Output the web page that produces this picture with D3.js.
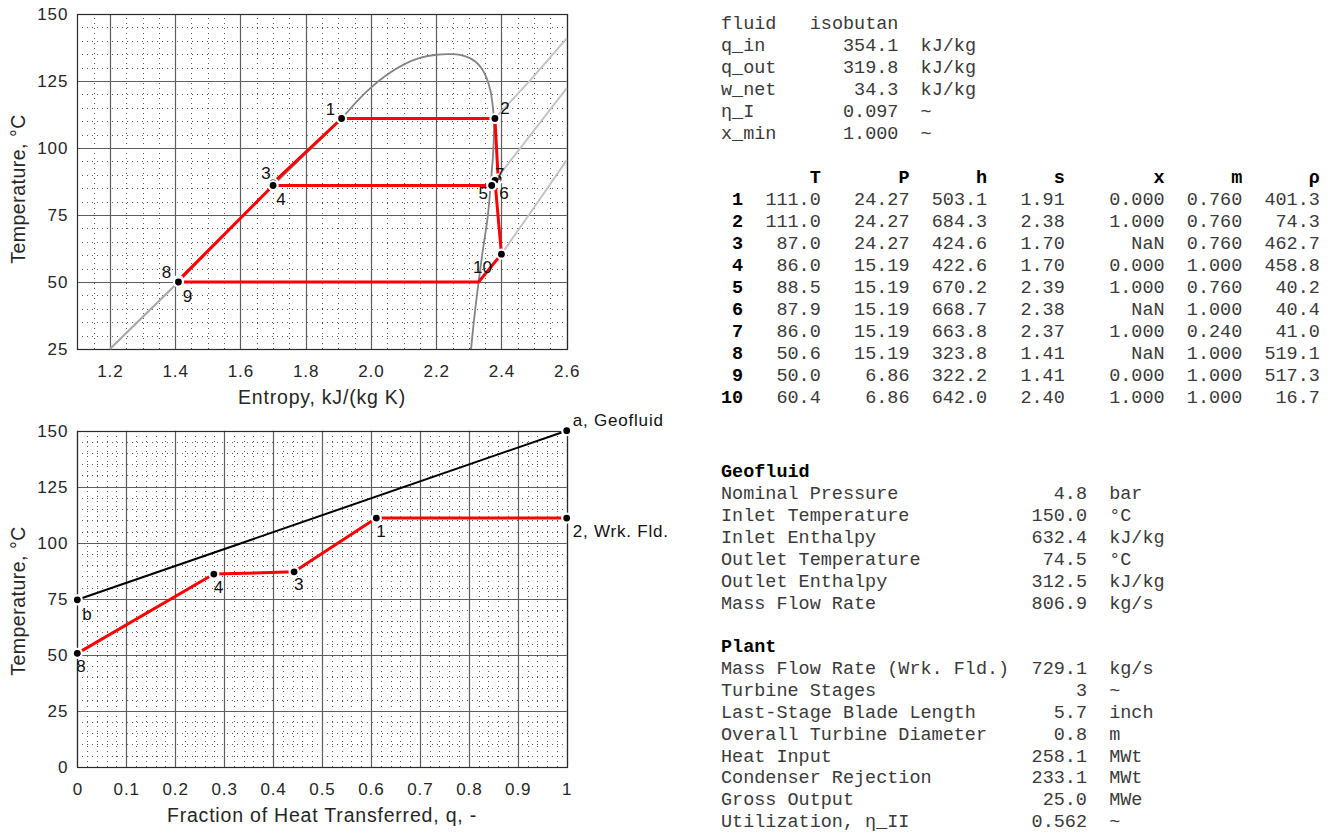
<!DOCTYPE html>
<html>
<head>
<meta charset="utf-8">
<script src="https://cdn.jsdelivr.net/npm/d3@7"></script>
<style>
  body { margin: 0; background: #fff; }
  svg { display: block; }
</style>
</head>
<body>
<svg id="fig" width="1333" height="833"></svg>
<script>
// ---------------- state table (working fluid) ----------------
const stateIds  = [1, 2, 3, 4, 5, 6, 7, 8, 9, 10];
const stateT    = [111.0, 111.0, 87.0, 86.0, 88.5, 87.9, 86.0, 50.6, 50.0, 60.4];
const stateP    = [24.27, 24.27, 24.27, 15.19, 15.19, 15.19, 15.19, 15.19, 6.86, 6.86];
const stateH    = [503.1, 684.3, 424.6, 422.6, 670.2, 668.7, 663.8, 323.8, 322.2, 642.0];
const stateS    = [1.91, 2.38, 1.70, 1.70, 2.39, 2.38, 2.37, 1.41, 1.41, 2.40];
const stateX    = [0.000, 1.000, NaN, 0.000, 1.000, NaN, 1.000, NaN, 0.000, 1.000];
const stateM    = [0.760, 0.760, 0.760, 1.000, 0.760, 1.000, 0.240, 1.000, 1.000, 1.000];
const stateRho  = [401.3, 74.3, 462.7, 458.8, 40.2, 40.4, 41.0, 519.1, 517.3, 16.7];
const tableHeaders = ["T", "P", "h", "s", "x", "m", "ρ"];

// cycle legs drawn between states (by id)
const cycleLegs = [[8, 4], [4, 3], [3, 1], [1, 2], [2, 5], [5, 6], [7, 6], [6, 10], [4, 7]];
// condenser leg: state 10 -> saturated vapour at 50 °C -> state 9
const condenserS = [2.40, 2.33, 1.41];
const condenserT = [60.4, 50.0, 50.0];

// saturation dome of isobutane (s in kJ/(kg K), T in °C)
const domeS = [1.20, 1.41, 1.70, 1.91, 1.95, 2.00, 2.05, 2.10, 2.15, 2.20, 2.25, 2.29, 2.32, 2.34, 2.355, 2.366, 2.372, 2.376, 2.377, 2.374, 2.368, 2.358, 2.343, 2.330, 2.317, 2.307];
const domeT = [25.0, 50.0, 86.0, 111.0, 116.5, 122.5, 127.4, 131.1, 133.6, 134.8, 135.0, 134.2, 132.3, 129.6, 126.0, 121.5, 117.0, 112.5, 106.0, 97.0, 88.0, 74.4, 61.9, 50.0, 37.0, 25.0];

// superheated isobars (24.27, 15.19, 6.86 bar)
const isobarHighS = [2.38, 2.49, 2.60];
const isobarHighT = [111.0, 125.5, 140.9];
const isobarMidS  = [2.384, 2.49, 2.60];
const isobarMidT  = [88.4, 105.0, 122.3];
const isobarLowS  = [2.40, 2.50, 2.60];
const isobarLowT  = [60.4, 77.8, 95.5];

// ---------------- heat-transfer diagram ----------------
const wfFrac   = [0, 0.279, 0.443, 0.611, 1.0];
const wfTemp   = [50.6, 86.0, 87.0, 111.0, 111.0];
const wfLabels = ["8", "4", "3", "1", "2, Wrk. Fld."];
const geoFrac   = [0, 1];
const geoTemp   = [74.5, 150.0];
const geoLabels = ["b", "a, Geofluid"];

// ---------------- axis ticks ----------------
const tsXTicks = [1.2, 1.4, 1.6, 1.8, 2.0, 2.2, 2.4, 2.6];
const tsYTicks = [25, 50, 75, 100, 125, 150];
const qXTicks  = [0, 0.1, 0.2, 0.3, 0.4, 0.5, 0.6, 0.7, 0.8, 0.9, 1];
const qYTicks  = [0, 25, 50, 75, 100, 125, 150];

// ---------------- summary text ----------------
const summaryNames  = ["fluid", "q_in", "q_out", "w_net", "η_I", "x_min"];
const summaryValues = ["isobutan", "354.1", "319.8", "34.3", "0.097", "1.000"];
const summaryUnits  = ["", "kJ/kg", "kJ/kg", "kJ/kg", "~", "~"];

const geoNames  = ["Nominal Pressure", "Inlet Temperature", "Inlet Enthalpy", "Outlet Temperature", "Outlet Enthalpy", "Mass Flow Rate"];
const geoValues = ["4.8", "150.0", "632.4", "74.5", "312.5", "806.9"];
const geoUnits  = ["bar", "°C", "kJ/kg", "°C", "kJ/kg", "kg/s"];

const plantNames  = ["Mass Flow Rate (Wrk. Fld.)", "Turbine Stages", "Last-Stage Blade Length", "Overall Turbine Diameter", "Heat Input", "Condenser Rejection", "Gross Output", "Utilization, η_II"];
const plantValues = ["729.1", "3", "5.7", "0.8", "258.1", "233.1", "25.0", "0.562"];
const plantUnits  = ["kg/s", "~", "inch", "m", "MWt", "MWt", "MWe", "~"];

// ============================================================
const svg = d3.select("#fig");
svg.append("rect").attr("width", 1333).attr("height", 833).attr("fill", "#fff");

const SANS = "'Liberation Sans', Arial, Helvetica, sans-serif";
const MONO = "'Liberation Mono', 'Courier New', monospace";
const px = v => Math.round(v) + 0.5;   // snap hairlines to pixel centres

function drawPanel(cfg) {
  const { x, y, xTicks, yTicks, xMinor, yMinor, xFmt, xTitle, yTitle, titleY, yTitleY } = cfg;
  const [x0, x1] = x.range();
  const [y0, y1] = y.range(); // y0 bottom, y1 top
  const g = svg.append("g");

  // minor dotted grid
  const minor = g.append("g").attr("shape-rendering", "crispEdges");
  minor.selectAll("line.vx").data(xMinor).join("line").attr("class", "vx")
    .attr("x1", d => px(x(d))).attr("x2", d => px(x(d))).attr("y1", y0).attr("y2", y1)
    .attr("stroke", "#5a5a5a").attr("stroke-width", 1).attr("stroke-dasharray", "1,4");
  minor.selectAll("line.hy").data(yMinor).join("line").attr("class", "hy")
    .attr("y1", d => px(y(d))).attr("y2", d => px(y(d))).attr("x1", x0).attr("x2", x1)
    .attr("stroke", "#5a5a5a").attr("stroke-width", 1).attr("stroke-dasharray", "1,4");

  // major grid through the library's axes
  const gridX = g.append("g").attr("transform", `translate(0,${y0})`)
    .call(d3.axisBottom(x).tickValues(xTicks).tickSize(-(y0 - y1)).tickFormat(""));
  gridX.select(".domain").remove();
  gridX.selectAll(".tick").attr("transform", d => `translate(${px(x(d))},0)`);
  gridX.selectAll("line").attr("stroke", "#5e5e5e").attr("stroke-width", 1.2);
  const gridY = g.append("g").attr("transform", `translate(${x0},0)`)
    .call(d3.axisLeft(y).tickValues(yTicks).tickSize(-(x1 - x0)).tickFormat(""));
  gridY.select(".domain").remove();
  gridY.selectAll(".tick").attr("transform", d => `translate(0,${px(y(d))})`);
  gridY.selectAll("line").attr("stroke", "#5e5e5e").attr("stroke-width", 1.2);

  // box
  g.append("rect").attr("x", px(x0)).attr("y", px(y1)).attr("width", Math.round(x1) - Math.round(x0)).attr("height", Math.round(y0) - Math.round(y1))
    .attr("fill", "none").attr("stroke", "#2a2a2a").attr("stroke-width", 1.2);

  // tick labels
  const ax = g.append("g").attr("transform", `translate(0,${y0})`)
    .call(d3.axisBottom(x).tickValues(xTicks).tickSize(0).tickPadding(16).tickFormat(xFmt));
  ax.select(".domain").remove();
  const ay = g.append("g").attr("transform", `translate(${x0},0)`)
    .call(d3.axisLeft(y).tickValues(yTicks).tickSize(0).tickPadding(9).tickFormat(d3.format("d")));
  ay.select(".domain").remove();
  [ax, ay].forEach(a => a.attr("font-family", SANS).attr("font-size", 17)
    .selectAll("text").attr("fill", "#262626").attr("letter-spacing", 0.9));

  // axis titles
  g.append("text").attr("x", (x0 + x1) / 2).attr("y", titleY).attr("text-anchor", "middle")
    .attr("font-family", SANS).attr("font-size", 19.5).attr("letter-spacing", 0.8)
    .attr("fill", "#262626").text(xTitle);
  g.append("text").attr("transform", `translate(25,${yTitleY}) rotate(-90)`).attr("text-anchor", "middle")
    .attr("font-family", SANS).attr("font-size", 19.5).attr("letter-spacing", 0.5)
    .attr("fill", "#262626").text(yTitle);
  return g;
}

function marker(g, cx, cy) {
  g.append("circle").attr("cx", cx).attr("cy", cy).attr("r", 5.6).attr("fill", "#fff");
  g.append("circle").attr("cx", cx).attr("cy", cy).attr("r", 3.4).attr("fill", "#000");
}

// ---------------- T-s diagram ----------------
const xS = d3.scaleLinear().domain([1.1, 2.6]).range([77.3, 566.7]);
const yTs = d3.scaleLinear().domain([25, 150]).range([349, 14]);
const rnd = v => Math.round(v * 1000) / 1000;

const ts = drawPanel({
  x: xS, y: yTs, xTicks: tsXTicks, yTicks: tsYTicks,
  xMinor: d3.range(0, 31).map(i => rnd(1.1 + i * 0.05)),
  yMinor: d3.range(0, 26).map(i => 25 + i * 5),
  xFmt: d3.format(".1f"),
  xTitle: "Entropy, kJ/(kg K)", yTitle: "Temperature, °C",
  titleY: 404, yTitleY: 189
});

const tsLine = d3.line().x(d => xS(d[0])).y(d => yTs(d[1]));
const pts = (S, T) => S.map((s, i) => [s, T[i]]);

[[isobarHighS, isobarHighT], [isobarMidS, isobarMidT], [isobarLowS, isobarLowT]].forEach(([S, T]) => {
  ts.append("path").datum(pts(S, T)).attr("d", tsLine)
    .attr("fill", "none").attr("stroke", "#c4c4c4").attr("stroke-width", 2);
});

// liquid branch below state 8 is the low-pressure isobar (light), the dome above it is darker
ts.append("path").datum(pts(domeS.slice(0, 2), domeT.slice(0, 2))).attr("d", tsLine)
  .attr("fill", "none").attr("stroke", "#a8a8a8").attr("stroke-width", 2.2);
ts.append("path").datum(pts(domeS.slice(1), domeT.slice(1)))
  .attr("d", d3.line().x(d => xS(d[0])).y(d => yTs(d[1])).curve(d3.curveCatmullRom.alpha(0.5)))
  .attr("fill", "none").attr("stroke", "#848484").attr("stroke-width", 1.8);

const byId = id => stateIds.indexOf(id);
cycleLegs.forEach(([a, b]) => {
  const i = byId(a), j = byId(b);
  ts.append("path").datum([[stateS[i], stateT[i]], [stateS[j], stateT[j]]]).attr("d", tsLine)
    .attr("fill", "none").attr("stroke", "#ff0000").attr("stroke-width", 3).attr("stroke-linecap", "round");
});
ts.append("path").datum(pts(condenserS, condenserT)).attr("d", tsLine)
  .attr("fill", "none").attr("stroke", "#ff0000").attr("stroke-width", 3).attr("stroke-linejoin", "round");

// label offsets around each marker (pixels)
const tsLabelDx = [-11, 10, -7, 8, -15, 9, 8, -12, 9, -19];
const tsLabelDy = [-10, -11, -10, 13, 14, 12, -12, -9, 14, 13];
stateIds.forEach((id, i) => marker(ts, xS(stateS[i]), yTs(stateT[i])));
stateIds.forEach((id, i) => {
  ts.append("text").attr("x", xS(stateS[i]) + tsLabelDx[i]).attr("y", yTs(stateT[i]) + tsLabelDy[i])
    .attr("dy", "0.36em").attr("text-anchor", "middle")
    .attr("font-family", SANS).attr("font-size", 17).attr("fill", "#111").text(id);
});

// ---------------- T-q diagram ----------------
const xQ = d3.scaleLinear().domain([0, 1]).range([77.3, 566.7]);
const yQ = d3.scaleLinear().domain([0, 150]).range([766.7, 430.7]);

const tq = drawPanel({
  x: xQ, y: yQ, xTicks: qXTicks, yTicks: qYTicks,
  xMinor: d3.range(0, 51).map(i => rnd(i * 0.02)),
  yMinor: d3.range(0, 31).map(i => i * 5),
  xFmt: d => (d === 0 || d === 1) ? String(d) : d3.format(".1f")(d),
  xTitle: "Fraction of Heat Transferred, q, -", yTitle: "Temperature, °C",
  titleY: 822, yTitleY: 601
});

const tqLine = d3.line().x(d => xQ(d[0])).y(d => yQ(d[1]));
tq.append("path").datum(pts(geoFrac, geoTemp)).attr("d", tqLine)
  .attr("fill", "none").attr("stroke", "#000").attr("stroke-width", 2);
tq.append("path").datum(pts(wfFrac, wfTemp)).attr("d", tqLine)
  .attr("fill", "none").attr("stroke", "#ff0000").attr("stroke-width", 3).attr("stroke-linejoin", "round");

geoFrac.forEach((q, i) => marker(tq, xQ(q), yQ(geoTemp[i])));
wfFrac.forEach((q, i) => marker(tq, xQ(q), yQ(wfTemp[i])));

const geoLabelDx = [10, 6], geoLabelDy = [14, -11];
geoFrac.forEach((q, i) => {
  tq.append("text").attr("x", xQ(q) + geoLabelDx[i]).attr("y", yQ(geoTemp[i]) + geoLabelDy[i])
    .attr("dy", "0.36em").attr("text-anchor", i === 0 ? "middle" : "start")
    .attr("font-family", SANS).attr("font-size", 17).attr("letter-spacing", 0.8).attr("fill", "#111").text(geoLabels[i]);
});
const wfLabelDx = [4, 5, 5, 5, 6], wfLabelDy = [13, 13, 12, 13, 13];
wfFrac.forEach((q, i) => {
  tq.append("text").attr("x", xQ(q) + wfLabelDx[i]).attr("y", yQ(wfTemp[i]) + wfLabelDy[i])
    .attr("dy", "0.36em").attr("text-anchor", i === wfFrac.length - 1 ? "start" : "middle")
    .attr("font-family", SANS).attr("font-size", 17).attr("letter-spacing", 0.8).attr("fill", "#111").text(wfLabels[i]);
});

// ---------------- text panels (fixed-width columns) ----------------
const TX = 721, CW = 11.09, FS = 18.48, ROW = 22;
const col = c => TX + c * CW;
const tp = svg.append("g").attr("font-family", MONO).attr("font-size", FS);

function cell(txt, c, yc, anchor, bold) {
  tp.append("text").attr("x", col(c)).attr("y", yc).attr("dy", "0.35em")
    .attr("text-anchor", anchor).attr("font-weight", bold ? "bold" : "normal")
    .attr("fill", bold ? "#000" : "#3a3a3a").attr("xml:space", "preserve").text(txt);
}

// summary block
summaryNames.forEach((n, i) => {
  const yc = 23 + i * ROW;
  cell(n, 0, yc, "start");
  if (i === 0) cell(summaryValues[i], 8, yc, "start");
  else cell(summaryValues[i], 16, yc, "end");
  if (summaryUnits[i]) cell(summaryUnits[i], 18, yc, "start");
});

// state table
const colEnds = [9, 17, 24, 31, 40, 47, 54];
const fmt1 = d3.format(".1f"), fmt2 = d3.format(".2f"), fmt3 = d3.format(".3f");
const f3 = v => isNaN(v) ? "NaN" : fmt3(v);
tableHeaders.forEach((h, k) => cell(h, colEnds[k], 177, "end", true));
stateIds.forEach((id, i) => {
  const yc = 199 + i * ROW;
  cell(String(id), 2, yc, "end", true);
  const vals = [fmt1(stateT[i]), fmt2(stateP[i]), fmt1(stateH[i]), fmt2(stateS[i]), f3(stateX[i]), fmt3(stateM[i]), fmt1(stateRho[i])];
  vals.forEach((v, k) => cell(v, colEnds[k], yc, "end"));
});

// geofluid block
cell("Geofluid", 0, 471, "start", true);
geoNames.forEach((n, i) => {
  const yc = 493 + i * ROW;
  cell(n, 0, yc, "start");
  cell(geoValues[i], 33, yc, "end");
  cell(geoUnits[i], 35, yc, "start");
});

// plant block
cell("Plant", 0, 646, "start", true);
plantNames.forEach((n, i) => {
  const yc = 668 + i * 21.8;
  cell(n, 0, yc, "start");
  cell(plantValues[i], 33, yc, "end");
  cell(plantUnits[i], 35, yc, "start");
});
</script>
</body>
</html>
